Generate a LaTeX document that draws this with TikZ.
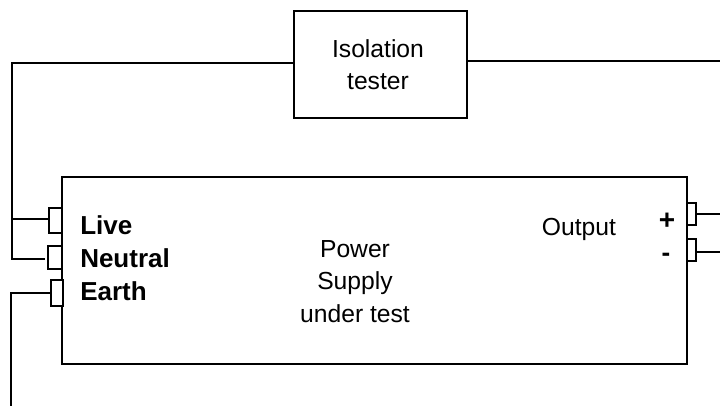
\documentclass[tikz,border=0pt]{standalone}
\usepackage{fontspec}
\setmainfont{Liberation Sans}
\tikzset{
  px/.style={x=0.75pt,y=-0.75pt},
  wire/.style={draw=black,line width=1.35pt,line join=miter},
  boxed/.style={draw=black,fill=white,line width=1.5pt,inner sep=0pt,outer sep=0pt},
  pin/.style={draw=black,fill=white,line width=1.35pt,inner sep=0pt,outer sep=0pt},
  txt/.style={font=\fontsize{18.5pt}{24.3pt}\selectfont,align=center,inner sep=0pt,text=black},
  bold/.style={font=\fontsize{19.5pt}{25pt}\selectfont\bfseries,anchor=base west,inner sep=0pt,text=black}
}
\begin{document}
\begin{tikzpicture}[px]
\useasboundingbox (0,0) rectangle (720,406);
\node[boxed,minimum width=130pt,minimum height=80.25pt] (tester) at (380.2,64.5) {};
\node[boxed,minimum width=468.75pt,minimum height=140.25pt] (psu) at (374.5,270.5) {};
\node[pin,minimum width=9.75pt,minimum height=18.75pt] (live) at (55.5,220.5) {};
\node[pin,minimum width=10.5pt,minimum height=17.25pt] (neutral) at (55,257.5) {};
\node[pin,minimum width=9pt,minimum height=19.5pt] (earth) at (57,293) {};
\node[pin,minimum width=6.75pt,minimum height=16.5pt] (plus) at (691.5,214) {};
\node[pin,minimum width=6.75pt,minimum height=16.5pt] (minus) at (691.5,250) {};
\coordinate (tl) at (12,63);
\coordinate (tr) at (720,61);
\coordinate (lj) at (12,219);
\coordinate (nb) at (12,259);
\coordinate (nend) at (45,259);
\coordinate (ec) at (11,293);
\coordinate (eb) at (11,406);
\coordinate (pe) at (720,214);
\coordinate (me) at (720,252);
\draw[wire] (tester.west |- tl) -- (tl) -- (nb) -- (nend);
\draw[wire] (tester.east |- tr) -- (tr);
\draw[wire] (lj) -- (live.west |- lj);
\draw[wire] (earth.west |- ec) -- (ec) -- (eb);
\draw[wire] (plus.east) -- (pe);
\draw[wire] (minus.east |- me) -- (me);
\node[txt] (t1) at (378,64.5) {Isolation\\tester};
\node[txt] (t2) at (355,281.5) {Power\\Supply\\under test};
\node[bold] (t3) at (80,234) {Live};
\node[bold] (t4) at (80,267) {Neutral};
\node[bold] (t5) at (80,300) {Earth};
\node[txt,anchor=base] (t6) at (579,235) {Output};
\node[bold,anchor=base,font=\fontsize{21pt}{25pt}\selectfont\bfseries] (t7) at (667,229) {+};
\node[bold,anchor=base] (t8) at (666,261) {-};
\end{tikzpicture}
\end{document}
